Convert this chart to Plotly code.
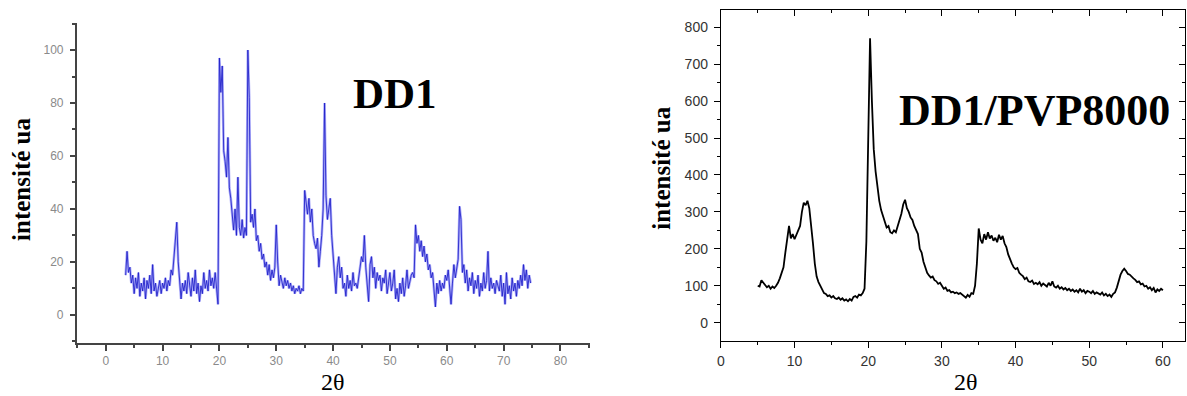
import numpy as np
import plotly.graph_objects as go

# ---------------- data ----------------
# DD1 diffractogram, 2theta sampled every 0.25 deg starting at 3.5
dd1_start, dd1_step = 3.5, 0.25
dd1_intensity = [
    15, 24, 16, 18, 12, 15, 8, 14, 10, 16, 7, 12, 9, 14, 6, 13, 10, 15, 8, 19,
    9, 12, 7, 11, 13, 8, 12, 10, 14, 9, 13, 11, 17, 15, 22, 26, 35, 20, 14, 6,
    12, 9, 13, 8, 16, 10, 7, 14, 9, 17, 8, 12, 5, 11, 8, 16, 10, 13, 9, 17,
    11, 14, 10, 16, 9, 4, 97, 84, 94, 62, 58, 52, 67, 48, 44, 38, 32, 40, 30, 52,
    33, 30, 36, 29, 33, 30, 100, 82, 35, 38, 33, 40, 28, 30, 24, 27, 21, 23, 18, 20,
    15, 19, 13, 17, 14, 18, 34, 20, 11, 15, 13, 10, 14, 11, 13, 10, 12, 9, 11, 8,
    10, 9, 11, 8, 10, 9, 47, 42, 38, 44, 35, 40, 30, 27, 25, 29, 18, 24, 30, 40,
    80, 45, 36, 40, 44, 30, 22, 16, 8, 18, 22, 14, 18, 10, 12, 7, 15, 10, 13, 9,
    16, 11, 12, 10, 14, 17, 22, 20, 30, 18, 12, 5, 19, 22, 14, 18, 10, 16, 13, 15,
    9, 14, 12, 17, 8, 13, 16, 9, 12, 17, 6, 10, 5, 12, 8, 14, 7, 11, 17, 10,
    13, 15, 16, 14, 34, 27, 30, 24, 28, 22, 26, 20, 23, 17, 19, 14, 16, 9, 3, 12,
    8, 13, 9, 12, 10, 15, 13, 17, 9, 4, 12, 19, 14, 18, 21, 41, 36, 16, 19, 12,
    17, 9, 14, 11, 16, 8, 13, 10, 15, 7, 12, 9, 16, 10, 13, 24, 9, 14, 10, 12,
    8, 13, 11, 9, 15, 7, 12, 4, 16, 8, 11, 6, 14, 9, 12, 7, 13, 10, 15, 11,
    19, 13, 17, 10, 15, 12,
]

# DD1/PVP8000 diffractogram, 2theta sampled every 0.25 deg starting at 5
pvp_start, pvp_step = 5.0, 0.25
pvp_intensity = [
    100, 98, 115, 108, 104, 96, 100, 92, 98, 94, 100, 108, 120, 135, 150, 190, 230, 262, 228, 240,
    226, 238, 245, 262, 300, 325, 318, 330, 310, 270, 215, 160, 125, 110, 100, 88, 80, 78, 72, 74,
    68, 72, 66, 64, 68, 62, 66, 60, 63, 58, 64, 60, 70, 72, 68, 76, 74, 80, 92, 220,
    520, 770, 600, 470, 410, 360, 330, 305, 290, 272, 258, 262, 245, 242, 250, 245, 262, 272, 295, 320,
    333, 310, 300, 285, 278, 262, 250, 240, 200, 190, 165, 150, 135, 128, 122, 125, 115, 112, 105, 108,
    98, 92, 95, 86, 88, 82, 84, 80, 82, 78, 80, 76, 72, 68, 75, 70, 80, 78, 100, 160,
    255, 225, 215, 240, 225, 245, 228, 236, 222, 230, 218, 238, 225, 235, 215, 205, 185, 170, 160, 150,
    145, 148, 135, 130, 126, 118, 122, 112, 110, 114, 105, 108, 104, 110, 100, 106, 102, 98, 108, 100,
    112, 98, 95, 100, 92, 96, 90, 94, 88, 92, 86, 90, 84, 88, 82, 92, 84, 88, 80, 86,
    84, 80, 86, 78, 82, 80, 76, 82, 74, 78, 72, 76, 70, 78, 82, 95, 115, 130, 140, 146,
    140, 132, 130, 124, 120, 116, 110, 112, 104, 106, 98, 100, 92, 96, 88, 94, 82, 90, 86, 92,
    88,
]

x_ticks_left = [0, 10, 20, 30, 40, 50, 60, 70, 80]
y_ticks_left = [0, 20, 40, 60, 80, 100]
x_ticks_right = [0, 10, 20, 30, 40, 50, 60]
y_ticks_right = [0, 100, 200, 300, 400, 500, 600, 700, 800]

dd1_x = dd1_start + dd1_step * np.arange(len(dd1_intensity))
pvp_x = pvp_start + pvp_step * np.arange(len(pvp_intensity))

W, H = 1187, 396

fig = go.Figure()
# left: blurred blue look = light wide line + darker thin line
fig.add_trace(go.Scatter(x=dd1_x, y=dd1_intensity, mode="lines",
                         line=dict(color="rgba(110,110,245,0.55)", width=2.6),
                         xaxis="x", yaxis="y", showlegend=False, hoverinfo="skip"))
fig.add_trace(go.Scatter(x=dd1_x, y=dd1_intensity, mode="lines",
                         line=dict(color="rgba(30,30,200,0.85)", width=1),
                         xaxis="x", yaxis="y", showlegend=False))
fig.add_trace(go.Scatter(x=pvp_x, y=pvp_intensity, mode="lines",
                         line=dict(color="black", width=1.8),
                         xaxis="x2", yaxis="y2", showlegend=False))
# invisible trace to activate the mirrored (inward tick) frame axes
fig.add_trace(go.Scatter(x=[None], y=[None], mode="lines", xaxis="x3", yaxis="y3",
                         showlegend=False, hoverinfo="skip"))

left_axis_col = "#444444"
left_tick_font = dict(family="Arial, Liberation Sans, sans-serif", size=12, color="#8a8a8a")
right_tick_font = dict(family="Arial, Liberation Sans, sans-serif", size=14, color="#333333")

fig.update_layout(
    width=W, height=H,
    margin=dict(l=0, r=0, t=0, b=0),
    paper_bgcolor="white", plot_bgcolor="white",
    xaxis=dict(domain=[73 / W, 588 / W], anchor="y", range=[-5.1, 85.2],
               tickmode="array", tickvals=x_ticks_left,
               showgrid=False, zeroline=False, showline=True,
               linecolor=left_axis_col, linewidth=1.6,
               ticks="outside", ticklen=6, tickwidth=1.6, tickcolor=left_axis_col,
               minor=dict(ticks="outside", ticklen=3, tickwidth=1.6, dtick=5, tick0=0,
                          tickcolor=left_axis_col, showgrid=False),
               tickfont=left_tick_font, ticklabelstandoff=0),
    yaxis=dict(domain=[(H - 342.7) / H, (H - 23) / H], anchor="x", range=[-10.5, 110.2],
               tickmode="array", tickvals=y_ticks_left,
               showgrid=False, zeroline=False, showline=True,
               linecolor=left_axis_col, linewidth=1.6,
               ticks="outside", ticklen=5, tickwidth=1.6, tickcolor=left_axis_col,
               minor=dict(ticks="outside", ticklen=3, tickwidth=1.6, dtick=10, tick0=0,
                          tickcolor=left_axis_col, showgrid=False),
               tickfont=left_tick_font, ticklabelstandoff=4),
    xaxis2=dict(domain=[719.3 / W, 1185 / W], anchor="y2", range=[0, 63.0],
                tickmode="array", tickvals=x_ticks_right,
                showgrid=False, zeroline=False, showline=True,
                linecolor="black", linewidth=1.2,
                ticks="outside", ticklen=6, tickwidth=1.2, tickcolor="black",
                minor=dict(ticks="outside", ticklen=3, tickwidth=1, dtick=5, tick0=0,
                           tickcolor="black", showgrid=False),
                tickfont=right_tick_font, ticklabelstandoff=1),
    yaxis2=dict(domain=[(H - 341) / H, (H - 10) / H], anchor="x2", range=[-49.6, 846.8],
                tickmode="array", tickvals=y_ticks_right,
                showgrid=False, zeroline=False, showline=True,
                linecolor="black", linewidth=1.2,
                ticks="outside", ticklen=6, tickwidth=1.2, tickcolor="black",
                minor=dict(ticks="outside", ticklen=3, tickwidth=1, dtick=50, tick0=0,
                           tickcolor="black", showgrid=False),
                tickfont=right_tick_font, ticklabelstandoff=3),
    xaxis3=dict(overlaying="x2", anchor="y3", side="top", range=[0, 63.0],
                tickmode="array", tickvals=x_ticks_right, showticklabels=False,
                showgrid=False, zeroline=False, showline=True,
                linecolor="black", linewidth=1.2,
                ticks="inside", ticklen=6, tickwidth=1.2, tickcolor="black",
                minor=dict(ticks="inside", ticklen=3, tickwidth=1, dtick=5, tick0=0,
                           tickcolor="black", showgrid=False)),
    yaxis3=dict(overlaying="y2", anchor="x3", side="right", range=[-49.6, 846.8],
                tickmode="array", tickvals=y_ticks_right, showticklabels=False,
                showgrid=False, zeroline=False, showline=True,
                linecolor="black", linewidth=1.2,
                ticks="inside", ticklen=6, tickwidth=1.2, tickcolor="black",
                minor=dict(ticks="inside", ticklen=3, tickwidth=1, dtick=50, tick0=0,
                           tickcolor="black", showgrid=False)),
)

serif = "Times New Roman, Liberation Serif, DejaVu Serif, serif"
ann = [
    dict(text="<b>intensité ua</b>", x=17 / W, y=(H - 179) / H, textangle=-90,
         font=dict(family=serif, size=25, color="black")),
    dict(text="<b>DD1</b>", x=392 / W, y=(H - 93) / H,
         font=dict(family=serif, size=43, color="black")),
    dict(text="2θ", x=330 / W, y=0, yanchor="bottom", borderpad=0,
         font=dict(family=serif, size=24, color="black")),
    dict(text="<b>intensité ua</b>", x=660 / W, y=(H - 168) / H, textangle=-90,
         font=dict(family=serif, size=25, color="black")),
    dict(text="<b>DD1/PVP8000</b>", x=1034 / W, y=(H - 110) / H,
         font=dict(family=serif, size=44, color="black")),
    dict(text="2θ", x=965 / W, y=0, yanchor="bottom", borderpad=0,
         font=dict(family=serif, size=24, color="black")),
]
for a in ann:
    a.setdefault("yanchor", "middle")
    a.update(xref="paper", yref="paper", showarrow=False, xanchor="center")
fig.update_layout(annotations=ann)

fig.write_html("out.html", config={"displayModeBar": False},
               post_script="document.body.style.margin='0';")
